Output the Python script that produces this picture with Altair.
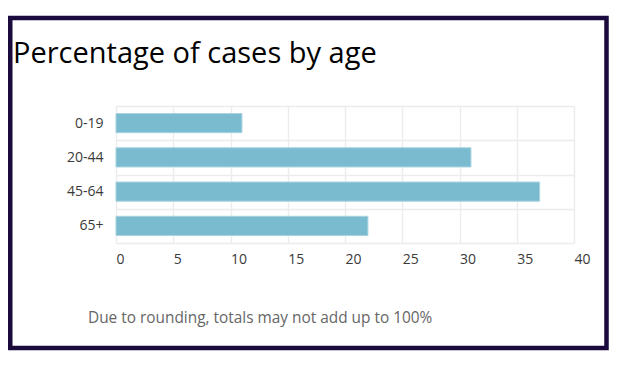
import altair as alt
import pandas as pd

ages = ["0-19", "20-44", "45-64", "65+"]
pct = [11, 31, 37, 22]
x_ticks = [0, 5, 10, 15, 20, 25, 30, 35, 40]
title_text = "Percentage of cases by age"
note_text = "Due to rounding, totals may not add up to 100%"

df = pd.DataFrame({"age": ages, "pct": pct})

FONT = "Open Sans"
PL, PT, W, H = 108, 98, 458, 137

bars = alt.Chart(df).mark_bar(
    color="#7abbcf", height={"band": 0.56}, stroke="#a9d3e0", strokeWidth=1
).encode(
    x=alt.X("pct:Q", scale=alt.Scale(domain=[0, 40], nice=False),
            axis=alt.Axis(values=x_ticks, title=None, labelAlign="left", ticks=False,
                          domain=False, gridColor="#ececec", gridWidth=1.5,
                          labelFont=FONT, labelFontSize=14, labelColor="#3a3a3a",
                          labelPadding=9)),
    y=alt.Y("age:N", sort=ages, scale=alt.Scale(paddingInner=0, paddingOuter=0),
            axis=alt.Axis(title=None, ticks=False, domain=False, grid=True,
                          tickBand="extent", gridColor="#ececec", gridWidth=1.5,
                          labelFont=FONT, labelFontSize=14, labelColor="#3a3a3a",
                          labelPadding=13)),
)

one = alt.Data(values=[{"t": title_text, "n": note_text}])

title = alt.Chart(one).mark_text(
    font=FONT, fontSize=29, color="#000000", align="left", baseline="alphabetic"
).encode(text="t:N", x=alt.value(-103), y=alt.value(-43))

note = alt.Chart(one).mark_text(
    font=FONT, fontSize=15.4, color="#666666", align="left", baseline="alphabetic"
).encode(text="n:N", x=alt.value(-28), y=alt.value(217))

border = alt.Chart(one).mark_rect(
    fill="transparent", stroke="#1b0a3c", strokeWidth=4.5
).encode(x=alt.value(-105.75), x2=alt.value(490.5), y=alt.value(-88), y2=alt.value(242))

chart = alt.layer(border, bars, title, note).properties(
    width=W, height=H,
    autosize=alt.AutoSizeParams(type="none"),
    padding={"left": PL, "top": PT, "right": 35, "bottom": 112},
).configure_view(stroke=None)

chart.save("out.html", embed_options={"renderer": "svg", "actions": False})
